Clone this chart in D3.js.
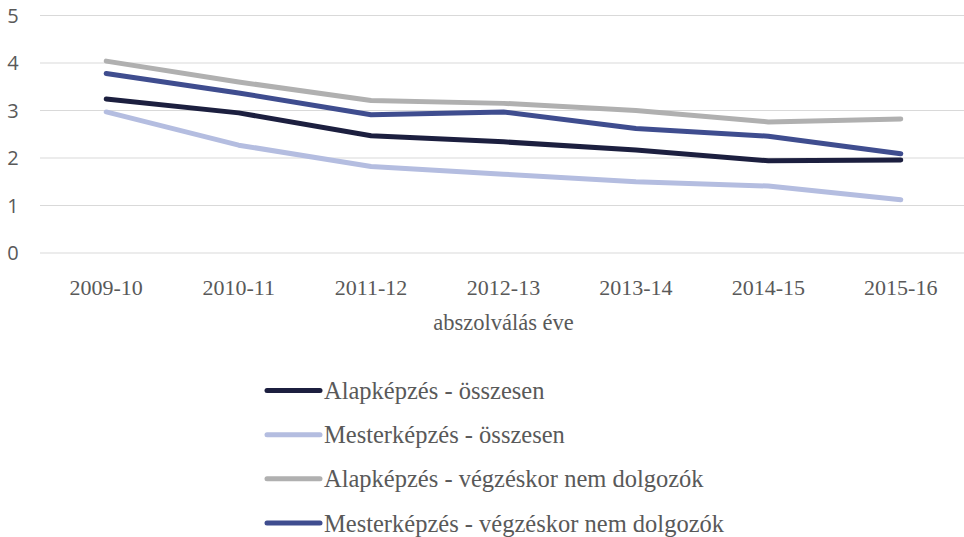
<!DOCTYPE html>
<html>
<head>
    <meta charset="utf-8">
    <title>Abszolválás éve</title>
    <script src="https://d3js.org/d3.v7.min.js"></script>
    <style>
        body { margin: 0; background: #fff; }
    </style>
</head>
<body>
    <svg id="chart" width="964" height="537"></svg>

    <script>
        // chart data
        const years = ['2009-10', '2010-11', '2011-12', '2012-13', '2013-14', '2014-15', '2015-16'];
        const seriesNames = [
            'Alapképzés - összesen',
            'Mesterképzés - összesen',
            'Alapképzés - végzéskor nem dolgozók',
            'Mesterképzés - végzéskor nem dolgozók'
        ];
        const alapOsszes = [3.24, 2.95, 2.47, 2.34, 2.17, 1.94, 1.96];
        const mesterOsszes = [2.97, 2.27, 1.82, 1.66, 1.50, 1.41, 1.12];
        const alapNemDolg = [4.04, 3.60, 3.21, 3.15, 3.00, 2.76, 2.82];
        const mesterNemDolg = [3.78, 3.37, 2.91, 2.97, 2.62, 2.46, 2.09];
        const yTicks = [0, 1, 2, 3, 4, 5];
        const xTitle = 'abszolválás éve';

        const colors = ['#1c1f3f', '#b4bde0', '#b0b0b0', '#3f4d8f'];
        const allSeries = [alapOsszes, mesterOsszes, alapNemDolg, mesterNemDolg];

        const svg = d3.select('#chart');
        const plotLeft = 40, plotRight = 967, plotTop = 15.5, plotBottom = 253;

        const x = d3.scaleBand().domain(years).range([plotLeft, plotRight]);
        const y = d3.scaleLinear().domain([0, 5]).range([plotBottom, plotTop]);

        // gridlines
        svg.append('g')
            .selectAll('line')
            .data(yTicks)
            .join('line')
            .attr('x1', plotLeft)
            .attr('x2', 964)
            .attr('y1', d => y(d))
            .attr('y2', d => y(d))
            .attr('stroke', '#d9d9d9')
            .attr('stroke-width', 1.2);

        // y labels
        svg.append('g')
            .selectAll('text')
            .data(yTicks)
            .join('text')
            .attr('x', 13)
            .attr('y', d => y(d))
            .attr('dy', '0.35em')
            .attr('text-anchor', 'middle')
            .attr('font-family', 'Open Sans, sans-serif')
            .attr('font-size', '20px')
            .attr('fill', '#595959')
            .text(d => d);

        // x labels
        svg.append('g')
            .selectAll('text')
            .data(years)
            .join('text')
            .attr('x', d => x(d) + x.bandwidth() / 2)
            .attr('y', 287)
            .attr('dy', '0.35em')
            .attr('text-anchor', 'middle')
            .attr('font-family', 'Liberation Serif, serif')
            .attr('font-size', '22px')
            .attr('fill', '#595959')
            .text(d => d);

        svg.append('text')
            .attr('x', (plotLeft + plotRight) / 2)
            .attr('y', 322)
            .attr('dy', '0.35em')
            .attr('text-anchor', 'middle')
            .attr('font-family', 'Liberation Serif, serif')
            .attr('font-size', '22.5px')
            .attr('fill', '#595959')
            .text(xTitle);

        // lines
        const line = d3.line()
            .x((d, i) => x(years[i]) + x.bandwidth() / 2)
            .y(d => y(d));

        svg.append('g')
            .selectAll('path')
            .data(allSeries)
            .join('path')
            .attr('d', d => line(d))
            .attr('fill', 'none')
            .attr('stroke', (d, i) => colors[i])
            .attr('stroke-width', 5)
            .attr('stroke-linecap', 'round')
            .attr('stroke-linejoin', 'round');

        // legend
        const legendY = d3.scaleLinear().domain([0, 3]).range([390.5, 523]);
        const legend = svg.append('g')
            .selectAll('g')
            .data(seriesNames)
            .join('g')
            .attr('transform', (d, i) => `translate(0,${legendY(i)})`);

        legend.append('line')
            .attr('x1', 267)
            .attr('x2', 320)
            .attr('stroke', (d, i) => colors[i])
            .attr('stroke-width', 5)
            .attr('stroke-linecap', 'round');

        legend.append('text')
            .attr('x', 324)
            .attr('dy', '0.35em')
            .attr('font-family', 'Liberation Serif, serif')
            .attr('font-size', '24.5px')
            .attr('fill', '#595959')
            .text(d => d);
    </script>
</body>
</html>
